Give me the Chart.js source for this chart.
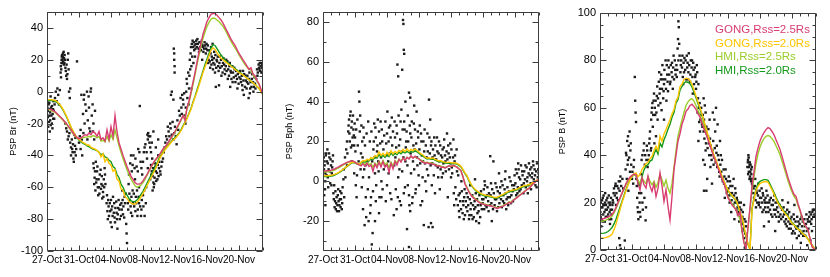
<!DOCTYPE html>
<html>
<head>
<meta charset="utf-8">
<script src="https://cdn.jsdelivr.net/npm/chart.js@4.4.0/dist/chart.umd.min.js"></script>
<style>
  html, body { margin: 0; padding: 0; background: #fff; }
  #wrap { position: relative; width: 830px; height: 277px; overflow: hidden; }
  canvas { position: absolute; top: 0; }
</style>
</head>
<body>
<div id="wrap">
  <canvas id="c1" width="272" height="277" style="left:0px"></canvas>
  <canvas id="c2" width="272" height="277" style="left:276px"></canvas>
  <canvas id="c3" width="277" height="277" style="left:553px"></canvas>
</div>
<script>
// time axis: days since 27-Oct, model curves sampled every 6 hours
const lineStep = 0.25;
const dayTicks = [0, 4, 8, 12, 16, 20, 24];
const dayLabels = ['27-Oct', '31-Oct', '04-Nov', '08-Nov', '12-Nov', '16-Nov', '20-Nov'];

const seriesNames = ['GONG,Rss=2.5Rs', 'GONG,Rss=2.0Rs', 'HMI,Rss=2.5Rs', 'HMI,Rss=2.0Rs'];

const brTicks = [-100, -80, -60, -40, -20, 0, 20, 40];
const bphTicks = [-20, 0, 20, 40, 60, 80];
const bTicks = [0, 20, 40, 60, 80, 100];

// ---- Br ----
const brGong25 = [
  -10.5, -10.8, -11.2, -11.8, -12.5, -13.7, -15, -16.2,
  -17.5, -19, -20.5, -22.2, -24, -25.8, -27.5, -28.7,
  -29.5, -29, -28, -27, -27.5, -26, -27, -25,
  -26, -28, -25, -30, -29, -31, -24, -30,
  -22, -28, -15, -25, -32, -36, -40, -43.5,
  -47, -50, -53, -55, -57, -58, -58, -57.5,
  -56, -54, -52, -49.5, -47, -45, -43, -41.5,
  -40, -38, -36, -34.5, -33, -31, -29, -27,
  -25, -22.5, -20, -17.5, -15, -18, -10, -6,
  0, 6, 12, 18.5, 25, 30.5, 36, 40,
  44, 46.5, 48.5, 49.2, 49, 48, 46.5, 45,
  43, 40.5, 38, 35.5, 33, 31, 29, 26.5,
  24, 22, 20, 18, 16, 14, 15, 11,
  10, 7, 5, 1.5, -2
];
const brGong20 = [
  -5, -5, -5, -5.2, -5.5, -6.2, -7.5, -9,
  -11, -13.5, -16, -19, -22, -24.5, -27, -28.5,
  -30, -31, -32, -32.5, -33.5, -33.5, -35, -35.5,
  -36, -37, -38, -41, -39, -44, -42, -45,
  -46, -50, -49, -55, -56, -61, -62, -66,
  -67, -69, -70, -70.5, -70.5, -69.5, -68, -66,
  -64, -61.5, -59, -56.5, -54, -51.5, -49, -46,
  -43, -40.5, -38.5, -36.5, -35, -33.5, -32, -30.5,
  -29.5, -28, -26.5, -24.5, -22, -19.5, -17, -14,
  -11, -7, -3.5, 0, 4, 8, 12, 15.5,
  19, 22.5, 26, 27.5, 26.5, 24.5, 22.5, 21,
  20, 19, 18, 17, 16, 15, 14, 13,
  12, 11.2, 10.5, 9.5, 8.5, 7.5, 6.5, 5.5,
  4.5, 3.3, 2, 0, -2
];
const brHmi25 = [
  -11, -11.3, -11.7, -12.3, -13, -14.2, -15.5, -16.7,
  -18, -19.5, -21, -22.7, -24.5, -26.3, -28, -29,
  -29.5, -29.5, -29, -28.5, -28.5, -28, -28.5, -27.5,
  -28, -29, -28, -31, -30.5, -31.5, -28, -31,
  -27, -30, -24, -29, -34, -38, -42, -45.5,
  -49, -52, -55, -57, -59, -60, -59.5, -58.5,
  -57, -55, -52.5, -50, -47.5, -45.5, -43.5, -42,
  -40.5, -38.5, -36.5, -35, -33.5, -31.5, -29.5, -27.5,
  -25.5, -23, -20.5, -18, -15.5, -16, -11, -7,
  -1.5, 4.5, 10.5, 17, 23, 28.5, 33.5, 37.5,
  41, 43.5, 45.5, 46.2, 46, 45, 44, 42.5,
  41, 39, 36.5, 34, 31.5, 29.5, 27.5, 25.5,
  23, 21, 19, 17, 15.5, 14, 13.5, 10.5,
  9, 6.5, 4.5, 1, -2
];
const brHmi20 = [
  -5.5, -5.5, -5.5, -5.8, -6, -6.8, -8, -9.5,
  -11.5, -14, -16.5, -19.5, -22.5, -25, -27.5, -29,
  -30.5, -31.5, -32.5, -33, -34, -34.5, -35.5, -36,
  -36.5, -37, -38, -39.5, -39, -41, -41.5, -43,
  -44, -47, -48, -52, -54, -58, -60, -63,
  -65, -67, -68.5, -69, -69, -68, -66.5, -64.5,
  -62.5, -60, -57.5, -55, -52.5, -50, -47.5, -45,
  -42, -40, -38, -36, -34.5, -33, -31.5, -30,
  -29, -27.5, -26, -24, -21.5, -19, -16.5, -13.5,
  -10.5, -6.5, -3, 1, 5, 9, 13, 17,
  20.5, 24, 27.5, 29.5, 29, 27, 25, 23,
  21.5, 20, 18.5, 17.5, 16.5, 15.5, 14.5, 13.5,
  12.5, 11.5, 10.5, 9.5, 8.5, 7.5, 6.5, 5.5,
  4.5, 3.3, 2, 0, -2
];
const brDots = [
  [0.05,-10],[0.1,-12],[0.15,-22],[0.2,-8],[0.3,-15],[0.35,-25],[0.4,-18],[0.45,-3],[0.5,-10],[0.6,-20],[0.7,-14],[0.75,-11],[0.8,-6],[0.9,-17],
  [0.05,-6],[0.12,-16],[0.22,-19],[0.28,-7],[0.38,-13],[0.48,-21],[0.55,-15],[0.62,-9],[0.68,-23],[0.78,-17],[0.85,-12],[0.95,-8],
  [1.0,-4],[1.1,0],[1.2,-6],[1.3,2],[1.4,-2],[1.5,-8],[1.6,1],
  [1.7,12],[1.75,9],[1.8,18],[1.85,22],[1.9,20],[2.0,24],[2.05,21],[2.1,17],[2.2,23],[2.3,15],[2.4,10],[2.5,8],[2.6,20],[2.7,14],
  [1.72,16],[1.78,14],[1.82,20],[1.88,23],[1.92,18],[1.98,22],[2.02,19],[2.08,25],[2.12,21],[2.18,18],[2.25,20],[2.35,13],[2.45,17],[2.55,11],[2.65,24],
  [2.75,0],[2.85,-4],[2.9,2],
  [2.3,-20],[2.5,-25],[2.7,-28],[2.9,-32],[3.0,-35],[3.1,-30],[3.2,-38],[3.3,-42],[3.4,-27],[3.5,-34],[3.6,-40],
  [2.4,-23],[2.6,-30],[2.8,-26],[3.0,-40],[3.15,-36],[3.25,-33],[3.35,-44],[3.45,-38],[3.55,-29],[3.65,-36],
  [3.75,19],
  [4.3,-2],[4.6,-5],[4.8,-8],[5.0,0],[5.2,-3],[5.5,2],
  [4.5,-14],[4.7,-20],[5.1,-18],[5.3,-23],[5.6,-15],[5.8,-20],[6.0,-12],
  [4.2,-24],[4.35,-30],[4.55,-26],[4.65,-2],[4.9,-12],[5.05,-30],[5.25,-10],[5.4,-25],[5.45,0],[5.7,-8],[5.75,-25],[5.9,-30],
  [4.0,-32],[4.1,-28],[4.2,-36],[4.4,-40],
  [5.8,-45],[5.9,-58],[6.0,-50],[6.1,-44],[6.2,-55],[6.3,-47],[6.4,-65],[6.5,-60],[6.6,-52],[6.8,-58],[6.9,-67],[7.0,-63],[7.1,-55],[7.2,-48],
  [5.85,-48],[5.95,-54],[6.05,-62],[6.15,-57],[6.25,-50],[6.35,-60],[6.45,-55],[6.55,-64],[6.7,-49],[6.75,-61],[6.85,-53],[6.95,-59],[7.05,-66],[7.15,-60],[7.25,-52],[7.3,-58],
  [7.5,-65],[7.6,-80],[7.7,-72],[7.9,-75],[8.0,-68],[8.1,-85],[8.2,-78],[8.4,-70],[8.5,-82],[8.7,-76],[8.8,-86],[8.9,-73],[9.1,-80],[9.3,-70],[9.4,-62],[9.5,-77],[9.7,-66],
  [7.45,-70],[7.55,-75],[7.65,-68],[7.75,-78],[7.85,-70],[7.95,-82],[8.05,-74],[8.15,-72],[8.25,-66],[8.35,-76],[8.45,-79],[8.55,-73],[8.65,-69],[8.75,-80],[8.85,-77],[8.95,-68],[9.05,-74],[9.15,-71],[9.25,-78],[9.35,-74],[9.45,-68],[9.55,-72],[9.65,-79],[9.75,-70],[9.85,-64],
  [9.9,-83],[9.95,-89],[10.0,-95],
  [11.6,-9],
  [10.2,-58],[10.4,-45],[10.6,-50],[10.8,-40],[11.0,-55],[11.2,-47],[11.4,-36],[11.5,-60],[11.7,-44],[11.9,-52],[12.1,-38],[12.3,-33],[12.5,-42],[12.6,-30],[12.7,-28],[12.9,-35],
  [10.25,-52],[10.5,-40],[10.7,-46],[10.95,-48],[11.05,-42],[11.35,-50],[11.55,-38],[11.8,-48],[12.0,-44],[12.2,-35],[12.45,-38],[12.55,-27],[12.65,-26],[12.8,-32],[13.0,-38],[13.15,-42],
  [10.1,-70],[10.3,-64],[10.5,-76],[10.7,-62],[10.9,-72],[11.1,-66],[11.3,-78],[11.5,-70],[11.8,-74],[12.0,-65],[12.2,-78],[12.4,-60],
  [10.15,-74],[10.35,-68],[10.45,-72],[10.55,-66],[10.65,-78],[10.75,-70],[10.85,-64],[11.05,-75],[11.15,-70],[11.25,-62],[11.35,-74],[11.45,-66],[11.65,-72],[11.75,-78],[11.85,-68],[12.05,-72],[12.15,-62],[12.35,-70],
  [12.6,-48],[12.9,-55],[13.1,-50],[13.2,-62],[13.3,-57],[13.5,-45],
  [13.0,-46],[13.2,-53],[13.4,-58],[13.6,-50],[13.8,-55],[14.0,-48],[14.2,-52],[14.4,-44],[13.9,-40],[14.6,-38],
  [13.05,-52],[13.25,-48],[13.35,-60],[13.45,-54],[13.55,-47],[13.65,-56],[13.75,-51],[13.85,-46],[13.95,-53],[14.05,-44],[14.15,-50],[14.3,-47],[14.5,-42],[14.7,-35],[14.8,-32],[14.9,-28],[15.0,-30],[15.1,-22],
  [12.9,-28],[13.1,-32],[13.3,-25],[13.6,-35],[13.9,-30],
  [15.2,-25],[15.4,-20],[15.6,-27],[15.8,-30],[16.0,-22],[16.2,-33],
  [15.3,-28],[15.45,-23],[15.7,-19],[15.9,-26],[16.1,-28],[16.3,-18],[16.4,-24],[16.5,-12],
  [15.5,-2],[15.6,0],[15.8,-5],
  [15.85,27],[15.9,24],[15.9,20],[15.95,16],[15.95,12],
  [16.6,-15],[16.8,-10],[16.9,-2],[17.0,-5],[17.2,-15],[17.3,-20],[17.4,0],[17.5,5],[17.7,-8],[17.8,10],[17.9,14],[18.1,2],
  [16.7,-4],[16.85,-14],[17.05,-8],[17.15,-1],[17.35,-10],[17.45,8],[17.55,-4],[17.65,12],[17.75,2],[17.85,20],[17.95,24],[18.05,16],[18.15,22],
  [18.0,28],[18.2,32],[18.3,18],[18.4,26],[18.5,22],[18.6,30],[18.8,33],[19.0,25],
  [18.1,30],[18.25,28],[18.35,31],[18.45,29],[18.55,27],[18.65,32],[18.75,28],[18.85,30],[18.95,27],[19.05,31],[19.15,28],[19.25,26],[19.35,32],[19.45,29],[19.55,25],[19.65,27],[19.75,29],[19.85,24],[19.95,30],[20.05,26],
  [19.3,30],[19.4,20],[19.5,28],[19.7,31],[19.9,27],[20.1,29],[20.3,26],[20.5,28],[20.7,30],[20.9,25],
  [20.2,20],[20.4,15],[20.6,22],[20.8,18],[21.0,12],[21.1,3],[21.2,20],[21.4,16],[21.5,4],[21.6,22],[21.8,10],[22.0,18],[22.2,14],[22.4,20],[22.6,8],[22.8,16],[22.9,3],[23.0,12],[23.2,6],[23.4,15],[23.6,10],[23.8,2],[24.0,12],
  [20.15,18],[20.25,23],[20.35,19],[20.45,24],[20.55,17],[20.65,20],[20.75,14],[20.85,21],[20.95,17],[21.05,23],[21.15,15],[21.25,19],[21.35,22],[21.45,13],[21.55,18],[21.65,15],[21.75,20],[21.85,16],[21.95,12],[22.05,21],[22.15,17],[22.25,11],[22.35,16],[22.45,13],[22.55,19],[22.65,14],[22.75,10],[22.85,18],[22.95,13],[23.05,8],[23.15,16],[23.25,12],[23.35,9],[23.45,14],[23.55,6],[23.65,13],[23.75,8],[23.85,11],[23.95,5],[24.05,9],[24.15,13],[24.25,6],[24.35,10],[24.45,1],[24.55,7],[24.65,11],[24.75,3],[24.85,7],
  [24.2,8],[24.4,4],[24.5,13],[24.6,-2],[24.8,10],[25.0,6],[25.2,-4],[25.3,12],[25.4,2],[25.6,8],[25.8,0],[26.0,5],
  [24.95,2],[25.05,10],[25.15,5],[25.25,8],[25.35,-1],[25.45,6],[25.55,3],[25.65,11],[25.75,6],[25.85,3],[25.95,9],[26.05,2],[26.15,8],[26.25,14],[26.35,12],[26.45,17],[26.55,14],[26.65,13],[26.75,18],[26.85,15],[26.95,12],
  [26.3,10],[26.5,15],[26.6,18],[26.7,16],[26.8,12],[26.9,17],[27.0,14]
];

// ---- Bph ----
const bphGong25 = [
  5.2, 5.2, 5.3, 5.4, 5.6, 5.9, 6.3, 6.8,
  7.4, 8.0, 8.5, 9.0, 9.5, 9.9, 10.2, 10.2,
  9.6, 8.8, 8.2, 7.7, 8.8, 7.6, 9, 7.4,
  8.2, 5, 8.6, 6.8, 9.6, 7.2, 10, 7,
  8.4, 4.6, 9, 6.2, 10, 8.2, 11, 9.6,
  11.8, 10.4, 12, 11.2, 12.8, 11.6, 12.6, 11.8,
  11.2, 10.2, 9.6, 9, 9.4, 8.8, 9, 8.4,
  8.4, 7.6, 7.8, 7.0, 7.2, 6.6, 7.2, 7.8,
  7.4, 8, 7.6, 7, 6.2, 5.4, 2, -1.5,
  -3.5, -5.5, -7, -8.2, -9, -9.8, -10.6, -11.2,
  -11.5, -11.8, -12, -12.2, -12.3, -12.8, -13.2, -13.6,
  -13.2, -12.8, -12.6, -12, -11.4, -10.6, -11, -9.6,
  -9, -8.2, -7.4, -6.6, -5.8, -5, -4.2, -3.6,
  -2.5, -1.4, -0.5, 0.4, 1
];
const bphGong20 = [
  2.8, 2.8, 2.8, 2.9, 3.0, 3.2, 3.6, 4.0,
  4.6, 5.3, 6.0, 6.8, 7.6, 8.4, 9.2, 9.6,
  9.4, 8.8, 8.6, 9.6, 10.4, 10.2, 11, 10.6,
  12, 11.4, 13, 12.4, 14.8, 13, 14, 12.8,
  14.6, 13.2, 15.4, 13.8, 15, 14.2, 15.6, 14.6,
  16, 15, 16.2, 15.2, 16, 15.4, 16.2, 15.6,
  14.6, 13.8, 13.2, 12.2, 11.6, 11.8, 11.4, 11.8,
  11, 10.6, 10.2, 10.4, 9.8, 9.6, 9.4, 9.6,
  9.4, 9.2, 9.3, 9, 8.4, 7.6, 6, 4.2,
  2.8, 0.6, -1.4, -2.8, -4, -4.8, -5.6, -6.2,
  -6.6, -6.9, -7.1, -7.3, -7.5, -7.8, -8.1, -8,
  -7.6, -7.1, -6.6, -6, -5.4, -4.9, -4.6, -4.4,
  -4.2, -3.9, -3.3, -2.8, -2.4, -2.1, -1.9, -1.6,
  -1.3, -0.6, 0, 0.6, 1
];
const bphHmi25 = [
  4.7, 4.7, 4.8, 4.9, 5.1, 5.4, 5.8, 6.3,
  6.9, 7.5, 8.1, 8.7, 9.2, 9.6, 9.9, 10,
  9.6, 9, 8.6, 8.4, 9, 8.4, 9.4, 8.4,
  9, 7, 9.2, 8, 10, 8.4, 10.4, 8.4,
  9.2, 6.8, 9.6, 7.6, 10.4, 9.2, 11.2, 10.2,
  11.6, 10.8, 12, 11.4, 12.4, 11.8, 12.4, 11.8,
  11.4, 10.6, 10, 9.4, 9.6, 9.2, 9.2, 8.8,
  8.6, 8, 8, 7.6, 7.4, 7, 7.4, 7.8,
  7.6, 7.8, 7.6, 7.2, 6.4, 5.2, 2.4, -1,
  -3, -5, -6.6, -7.8, -8.6, -9.4, -10.2, -10.8,
  -11.2, -11.5, -11.8, -12, -12.2, -12.6, -13, -13.3,
  -13, -12.6, -12.2, -11.7, -11.1, -10.4, -10.4, -9.4,
  -8.8, -8, -7.2, -6.4, -5.6, -4.8, -4, -3.4,
  -2.4, -1.3, -0.4, 0.5, 1
];
const bphHmi20 = [
  2.4, 2.4, 2.4, 2.5, 2.6, 2.8, 3.2, 3.7,
  4.3, 5.0, 5.8, 6.6, 7.4, 8.2, 9.0, 9.4,
  9.2, 8.6, 8.4, 9.2, 9.8, 9.6, 10.4, 10.2,
  11.2, 10.8, 12, 11.6, 13.4, 12.2, 13, 12,
  13.4, 12.4, 14.2, 13, 14, 13.4, 14.6, 13.8,
  14.8, 14.2, 15, 14.4, 15, 14.6, 15.2, 14.8,
  14, 13.2, 12.6, 11.8, 11.2, 11.4, 11, 11.2,
  10.6, 10.2, 9.8, 10, 9.4, 9.2, 9, 9.2,
  9, 8.8, 8.9, 8.6, 8, 7.2, 5.6, 3.8,
  2.4, 0.2, -1.8, -3.2, -4.4, -5.2, -6, -6.6,
  -7, -7.3, -7.5, -7.7, -7.9, -8.2, -8.5, -8.4,
  -8, -7.5, -7, -6.4, -5.8, -5.3, -5, -4.8,
  -4.6, -4.3, -3.7, -3.2, -2.8, -2.5, -2.2, -1.9,
  -1.5, -0.8, -0.2, 0.5, 0.9
];
const bphDots = [
  [0.1,12],[0.15,-7],[0.2,8],[0.25,-4],[0.3,4],[0.3,-12],[0.4,14],[0.5,10],[0.55,16],[0.6,2],[0.7,6],[0.8,12],[0.9,-1],[1.0,8],[1.1,4],[1.2,10],
  [0.05,14],[0.12,6],[0.18,10],[0.28,0],[0.35,13],[0.45,3],[0.6,9],[0.65,-3],[0.75,14],[0.85,5],[0.95,11],[1.05,-2],[1.15,7],[1.25,13],
  [1.3,-6],[1.4,-2],[1.5,-10],[1.6,-14],[1.7,-8],[1.8,-12],[1.9,-4],[2.0,-15],[2.1,-9],[2.2,-13],[2.3,-6],[2.4,-11],
  [1.35,-9],[1.45,-13],[1.55,-5],[1.65,-11],[1.75,-15],[1.85,-7],[1.95,-10],[2.05,-12],[2.15,-5],[2.25,-9],[2.35,-14],[2.45,-3],[2.55,1],[2.65,-8],
  [2.6,6],[2.8,2],[3.0,8],
  [3.0,20],[3.2,28],[3.3,24],[3.4,33],[3.45,35],[3.5,17],[3.6,30],[3.7,22],[3.8,26],[3.9,18],[4.0,22],
  [2.75,12],[2.9,16],[3.05,14],[3.15,25],[3.25,31],[3.35,20],[3.55,27],[3.65,18],[3.75,33],[3.85,23],[3.95,29],[4.05,15],[4.15,26],
  [3.6,10],[3.9,4],[4.1,-2],[4.2,-8],
  [4.5,45],[4.55,40],
  [4.3,31],[4.6,25],[4.8,28],[4.9,20],[5.1,22],
  [4.7,6],[5.0,2],[5.3,8],
  [4.25,3],[4.35,18],[4.45,10],[4.65,33],[4.75,14],[4.85,-3],[4.95,12],[5.05,27],[5.15,6],[5.25,18],[5.35,-8],[5.45,24],[5.55,10],[5.65,30],[5.75,2],[5.85,20],[5.95,-12],
  [5.0,-14],[5.2,-22],[5.4,-18],[5.6,-4],[5.7,-20],[5.9,-16],[6.0,-8],
  [6.1,-31.7],
  [6.3,16],[6.4,29],[6.6,22],[6.8,18],[7.0,25],[7.2,30],[7.4,20],
  [6.5,4],[6.9,10],[7.3,0],[7.6,6],
  [6.2,-26],[6.5,-20],[6.6,-10],[7.0,-16],[7.3,-8],
  [6.05,25],[6.15,10],[6.25,-5],[6.35,20],[6.45,12],[6.55,27],[6.65,-2],[6.75,15],[6.85,31],[6.95,5],[7.05,-8],[7.15,19],[7.25,12],[7.35,26],[7.45,-4],[7.55,16],[7.65,23],[7.75,8],[7.85,-10],[7.95,13],
  [7.8,30],[7.9,19],[8.0,24],[8.2,20],[8.4,28],[8.6,32],
  [8.0,-2],[8.2,4],[8.4,-6],
  [8.05,35],[8.15,10],[8.25,27],[8.35,14],[8.45,22],[8.55,-9],[8.65,18],[8.75,25],[8.85,-17],[8.95,30],[9.05,12],[9.15,17],[9.25,24],[9.35,-8],[9.45,33],[9.55,6],[9.65,21],[9.75,-12],[9.85,15],[9.95,26],
  [9.3,58.6],[9.4,52.7],
  [9.9,56],[10.0,81],[10.05,79],[10.1,66],[10.15,64],
  [10.75,44.5],[10.9,42],
  [10.5,-24],[10.75,-33],
  [9.0,22],[9.2,28],[9.5,18],[9.7,30],[9.8,36],[10.2,26],[10.3,40],[10.4,20],[10.6,33],[10.9,24],[11.1,30],[11.3,18],[11.4,38],[11.5,26],[11.7,35],[11.9,22],[12.1,28],
  [8.9,8],[9.1,-4],[9.2,-14],[9.4,2],[9.6,-10],[9.9,5],[10.1,-6],[10.3,10],[10.6,-2],[10.8,-12],[10.9,-15],[11.0,4],[11.2,-8],[11.4,6],[11.6,-4],[11.8,8],[12.0,-2],[12.2,-12],
  [10.05,12],[10.15,30],[10.25,-3],[10.35,17],[10.45,25],[10.55,8],[10.65,20],[10.75,-7],[10.85,28],[10.95,14],[11.05,22],[11.15,-11],[11.25,10],[11.35,29],[11.45,16],[11.55,-6],[11.65,19],[11.75,12],[11.85,25],[11.95,3],
  [12.3,20],[12.4,-10],[12.5,10],[12.6,-22],[12.7,26],[12.8,0],[12.9,-5],[13.0,6],[13.1,15],[13.3,22],
  [12.05,16],[12.15,9],[12.25,24],[12.35,13],[12.45,2],[12.55,20],[12.65,15],[12.75,9],[12.85,18],[12.95,12],[13.05,24],[13.15,3],[13.35,14],[13.45,8],
  [13.2,-23],[13.25,41],
  [13.4,31],[13.5,18],[13.7,12],[13.9,22],[14.1,8],[14.3,15],[14.5,20],[14.7,6],[14.9,12],[15.1,17],[15.3,10],[15.5,24],[15.7,14],[15.9,19],[16.1,7],[16.3,21],[16.5,13],[16.7,16],
  [13.55,20],[13.65,9],[13.75,16],[13.85,3],[13.95,13],[14.05,18],[14.15,11],[14.25,22],[14.35,7],[14.45,14],[14.55,10],[14.65,18],[14.75,13],[14.85,2],[14.95,16],[15.05,9],[15.15,21],[15.25,13],[15.35,5],[15.45,15],[15.55,11],[15.65,18],[15.75,6],[15.85,12],[15.95,9],[16.05,16],[16.15,4],[16.25,12],[16.35,-6],[16.45,10],
  [13.6,-2],[14.0,-6],[14.4,2],[13.5,-21],[13.7,-23],[14.6,-4],[15.0,4],[15.6,-8],[16.0,2],[16.4,-12],
  [16.9,3],[17.1,-6],[17.3,0],[17.5,-10],[17.7,-4],[17.9,-13],[18.1,-8],[18.3,-17],[18.5,-11],[18.7,-19],[18.9,-14],[19.1,-6],[19.3,-16],[19.5,-21],[19.7,-12],[19.9,-9],[17.0,-15],[17.6,-19],[18.4,-2],[19.0,1],
  [16.55,-3],[16.65,-9],[16.75,5],[16.85,-12],[16.95,-7],[17.05,-18],[17.15,-10],[17.25,-14],[17.35,-5],[17.45,-16],[17.55,-12],[17.65,-8],[17.75,-17],[17.85,-10],[17.95,-6],[18.05,-15],[18.15,-12],[18.25,-19],[18.35,-9],[18.45,-14],[18.55,-17],[18.65,-7],[18.75,-12],[18.85,-18],[18.95,-10],[19.05,-13],[19.15,-20],[19.25,-9],[19.35,-12],[19.45,-15],[19.55,-7],[19.65,-18],[19.75,-5],[19.85,-14],[19.95,-11],
  [20.1,-4],[20.3,-12],[20.5,-7],[20.7,-15],[20.9,12.6],[21.1,-20],[21.3,10],[21.5,-9],[21.7,-3],[21.9,-13],[22.1,-6],[22.3,0],[22.5,-10],[22.7,-4],[22.9,-14],[23.1,-8],[23.3,2],[23.5,-11],[23.7,-5],[20.2,0],[21.0,-1],[22.0,4],[22.8,5],
  [20.05,-9],[20.15,-14],[20.25,-2],[20.35,-8],[20.45,-13],[20.55,-3],[20.65,-10],[20.75,-6],[20.85,-12],[20.95,-7],[21.05,-11],[21.15,-4],[21.25,-14],[21.35,-6],[21.45,-12],[21.55,-1],[21.65,-9],[21.75,-15],[21.85,-5],[21.95,-8],[22.05,-11],[22.15,-3],[22.25,-9],[22.35,-13],[22.45,-2],[22.55,-7],[22.65,-11],[22.75,1],[22.85,-6],[22.95,-9],[23.05,-3],[23.15,-12],[23.25,-5],[23.35,-8],[23.45,0],[23.55,-7],[23.65,-2],[23.75,-10],[23.85,-4],[23.95,3],
  [23.9,-2],[24.1,6],[24.3,-6],[24.4,9],[24.5,2],[24.7,-4],[24.9,5],[25.1,-1],[25.3,8],[25.5,0],[25.6,-6],[25.7,4],[25.9,6],[26.0,-4],[26.1,2],[26.3,8],[26.5,3],[26.7,-3],[26.9,6],
  [24.05,-1],[24.15,-7],[24.25,4],[24.35,-3],[24.45,6],[24.55,-5],[24.65,1],[24.75,8],[24.85,-2],[24.95,3],[25.05,-6],[25.15,5],[25.25,1],[25.35,-3],[25.45,7],[25.55,2],[25.65,-2],[25.75,9],[25.85,3],[25.95,-1],[26.05,7],[26.15,4],[26.25,10],[26.35,1],[26.45,6],[26.55,-2],[26.65,5],[26.75,9],[26.85,2],[26.95,4]
];

// ---- B ----
const bGong25 = [
  13, 13.1, 13.3, 13.6, 14, 14.4, 15, 16.3,
  18, 20, 22, 24, 26, 28, 29.5, 30.8,
  31.5, 32, 31.8, 28, 25.4, 30.5, 27.5, 26.1,
  31.1, 27, 24.7, 28, 22.6, 26, 32.5, 27,
  20.5, 25.4, 18.4, 12.7, 22.6, 33.9, 40, 46,
  49, 53, 55.5, 58.5, 59.5, 61, 61.5, 60.5,
  59.3, 57.5, 56, 53.5, 51, 49, 46.5, 44,
  41.5, 39, 37, 34.5, 32.5, 30, 28, 25,
  22, 20.5, 19, 18, 17, 14.5, 16, 8.5,
  3, 0.5, 10, 18, 27, 33, 39.5, 43,
  46, 48, 49.5, 50.8, 51.6, 51.2, 50, 48.6,
  46.5, 44.5, 42.4, 39.5, 36.5, 33.5, 30.5, 28,
  25.5, 23.5, 22.6, 19.5, 17, 14, 11.3, 10,
  8.5, 5, 1.4, 0.5, 0
];
const bGong20 = [
  5, 5, 5.1, 5.3, 5.6, 6, 6.6, 8.5,
  11, 14, 17, 20, 22.5, 25, 27.5, 29.5,
  31.2, 32.2, 32.5, 31, 31.8, 34, 35.3, 36.5,
  37, 38.5, 39.5, 42, 43.8, 42, 48, 45.9,
  49, 50.8, 53, 55, 57.5, 59.3, 63, 64.5,
  69, 70, 72, 72.5, 72.3, 71.5, 69.9, 67.5,
  65, 62.5, 60, 57.5, 54.5, 51.5, 48.5, 45.5,
  42.5, 40, 38, 35.5, 33.5, 31, 29, 27,
  25.5, 24, 23, 22, 21, 19, 16, 14,
  10, 6, 2.8, 0, 17, 21.5, 25, 27,
  28, 28.5, 28.8, 28.9, 28.6, 27, 25.4, 23.5,
  21.5, 19.8, 18.5, 17.2, 16, 15, 14, 12.5,
  11.3, 10.5, 9.6, 8.8, 8.2, 7.2, 6.5, 5.6,
  4.5, 3, 2, 1, 0
];
const bHmi25 = [
  12, 12.1, 12.3, 12.6, 13, 13.5, 14.2, 15.6,
  17.4, 19.5, 21.6, 23.8, 25.8, 27.8, 29.4, 30.6,
  31.3, 31.6, 31.4, 29.5, 28, 30.5, 29, 28,
  31, 29, 27.5, 29, 26.5, 28.5, 32, 29.5,
  27, 29.5, 26, 24, 28, 35, 42, 48,
  51.5, 55, 58, 61, 62.5, 63.5, 63.8, 62.8,
  61, 59, 57, 54.5, 52, 49.5, 47, 44.5,
  42, 39.5, 37, 35, 33, 30.5, 28.5, 25.5,
  22.5, 21, 19.5, 18.5, 17, 15, 13, 8,
  3, 1, 9, 17, 25, 31, 36.5, 40.5,
  43.5, 45.5, 47, 48, 48.3, 48, 47, 45.8,
  44, 42.2, 40.2, 37.5, 34.8, 32, 29.2, 26.8,
  24.5, 22.6, 21.5, 18.8, 16.4, 13.6, 11, 9.8,
  8.2, 4.8, 1.4, 0.5, 0
];
const bHmi20 = [
  7, 7, 7.1, 7.3, 7.8, 8.5, 9.5, 11,
  13, 15.5, 18, 20.5, 23, 25.5, 27.8, 29.6,
  31, 31.8, 31.6, 28.5, 27, 31, 33.8, 35.5,
  36, 37.5, 38, 40.5, 42.5, 40.5, 45, 43.5,
  46.5, 48.5, 51, 53, 56, 58, 62, 63.5,
  67.5, 69, 70.5, 71, 70.8, 70.2, 68.8, 66.6,
  64.2, 61.8, 59.4, 57, 54, 51, 48, 45,
  42, 39.6, 37.6, 35.2, 33.2, 30.8, 28.8, 26.8,
  25.2, 23.8, 22.8, 21.8, 20.6, 18.6, 15.6, 13.4,
  9.4, 5.5, 2.3, 0.5, 17.5, 22, 25.8, 28,
  29, 29.4, 29.7, 29.7, 29.4, 27.8, 26, 24.2,
  22.2, 20.4, 19, 17.6, 16.4, 15.4, 14.3, 12.8,
  11.6, 10.8, 9.9, 9, 8.4, 7.4, 6.6, 5.8,
  4.6, 3.2, 2.1, 1, 0
];
const bDots = [
  [0.05,16],[0.1,20],[0.15,10],[0.2,13],[0.3,18],[0.35,22],[0.4,15],[0.5,19],[0.6,12],[0.65,24],[0.7,17],[0.8,21],[0.9,14],[1.0,18],[1.1,23],[1.2,16],[1.25,11],[1.3,20],[1.4,13],[1.5,17],
  [0.08,14],[0.18,18],[0.25,21],[0.32,12],[0.42,19],[0.45,23],[0.55,16],[0.62,20],[0.72,14],[0.75,19],[0.85,17],[0.92,22],[1.02,15],[1.08,20],[1.15,13],[1.22,19],[1.32,17],[1.38,22],[1.45,15],[1.55,19],[1.6,21],
  [1.7,24],[1.9,27],[2.0,19],[2.1,22],[2.3,26],[2.5,29],
  [1.65,20],[1.75,26],[1.85,23],[1.95,28],[2.05,24],[2.15,27],[2.25,21],[2.35,29],[2.45,25],[2.55,31],[2.65,27],[2.8,30],[2.9,26],
  [2.4,5],[2.5,2],[2.6,0.5],[3.1,4],
  [3.3,40],[3.4,46],[3.5,38],[3.6,44],[3.7,50],[3.8,42],
  [3.2,34],[3.25,41],[3.45,36],[3.5,48],[3.65,39],[3.85,45],[3.9,36],[4.05,33],[4.15,28],[4.25,38],
  [3.35,30],[3.55,25],[3.75,33],
  [4.35,73],[4.4,63],[4.45,58],[4.5,54],
  [4.0,30],[4.2,35],[4.6,27],[4.9,24],[5.1,32],
  [4.7,18],[4.8,13],[5.0,16],[5.3,20],[5.7,12.5],
  [4.55,30],[4.65,22],[4.75,16],[4.85,28],[4.95,20],[5.05,14],[5.15,24],[5.2,38],[5.35,17],[5.45,42],[5.55,22],[5.65,40],[5.75,18],[5.85,44],[5.95,35],[6.05,38],[6.15,45],[6.25,50],[6.35,42],
  [5.3,40],[5.5,45],[5.6,36],[5.8,38],[5.9,42],
  [6.4,55],[6.5,60],[6.6,52],[6.7,63],[6.9,57],[7.1,65],[7.2,55],[7.3,61],[7.5,68],[7.7,59],[7.9,64],[8.0,55],
  [6.1,40],[6.2,47],[6.4,43],[6.8,45],[7.0,48],
  [6.45,58],[6.55,62],[6.65,57],[6.75,66],[6.85,60],[6.95,63],[7.05,58],[7.15,69],[7.25,64],[7.35,71],[7.45,66],[7.55,62],[7.65,74],[7.75,68],[7.85,72],[7.95,67],[8.05,76],[8.15,72],[8.25,68],[8.35,78],[8.45,71],[8.55,80],[8.65,74],[8.75,70],[8.85,78],[8.95,75],[9.05,73],[9.15,77],[9.25,72],[9.35,80],[9.45,74],[9.55,78],[9.65,76],
  [7.4,75],[7.6,72],[7.8,78],[8.0,70],[8.2,80],[8.3,63],[8.4,74],[8.5,67],[8.6,77],[8.8,71],[9.0,79],[9.1,68],[9.2,82],[9.4,76],[9.6,73],[9.8,80],
  [9.7,85],[9.75,89],[9.8,96.5],[9.85,94],[9.9,87],
  [10.1,78],[10.3,82],[10.4,70],[10.5,75],[10.7,80],[10.9,77],[11.0,72],[11.1,83],[11.3,74],
  [9.95,82],[10.05,75],[10.15,80],[10.25,77],[10.35,73],[10.45,79],[10.55,81],[10.65,76],[10.75,72],[10.85,82],[10.95,79],[11.05,75],[11.15,78],[11.25,71],[11.35,80],[11.45,77],[11.55,73],[11.65,79],[11.75,70],[11.85,77],[11.95,74],[12.05,71],[12.15,75],
  [11.5,80],[11.6,66],[11.7,76],[11.9,73],[12.0,68],[12.1,78],[12.3,70],
  [12.2,58],[12.3,46],[12.4,54],[12.5,50],[12.6,57],[12.8,52],[13.0,55],
  [12.25,64],[12.35,60],[12.45,62],[12.55,55],[12.65,60],[12.75,53],[12.85,57],[12.95,50],[13.05,47],[13.15,52],[13.25,45],[13.35,49],[13.45,43],[13.55,51],[13.65,40],[13.75,47],[13.85,44],[13.95,38],[14.05,42],[14.15,46],[14.25,39],[14.35,43],[14.45,37],[14.55,41],[14.65,35],[14.75,40],[14.85,38],[14.95,31],[15.05,36],[15.15,33],[15.25,38],[15.35,29],[15.45,34],
  [13.1,36],[13.0,25],[13.3,25],[13.4,30],
  [12.95,64],[13.1,61],[13.2,58],[13.3,52],[13.5,48],[13.6,45],[13.7,55],
  [14.1,58],[14.3,55],[14.4,50],[14.5,60],[14.7,53],
  [12.9,38],[13.2,42],[13.8,35],[13.9,40],[14.0,28],[14.2,36],[14.6,44],[14.9,33],[15.0,46],[15.1,40],[15.3,30],
  [15.5,28],[15.6,22],[15.7,34],[15.9,25],[16.1,31],[16.2,20],[16.3,27],[16.5,24],[16.7,30],[16.9,26],
  [15.55,31],[15.65,27],[15.75,30],[15.85,24],[15.95,29],[16.05,26],[16.15,23],[16.25,29],[16.35,24],[16.45,21],[16.55,27],[16.65,19],[16.75,23],[16.85,20],[16.95,24],[17.05,17],[17.15,21],[17.25,15],[17.35,20],[17.45,18],[17.55,14],[17.65,17],[17.75,11],[17.85,16],[17.95,9],[18.05,13],[18.15,7],[18.25,10],[18.35,6],
  [16.4,16],[16.8,13],[17.2,18],[17.4,12],
  [17.1,22],[17.3,16],[17.6,20],[17.8,14],[18.0,19],[18.2,12],
  [17.8,8],[18.0,5],[18.1,1],[18.3,3],
  [18.5,38],[18.55,40],[18.6,33],[18.7,36],[18.75,31],[18.8,30],[18.9,34],[19.0,28],
  [18.42,35],[18.48,37],[18.52,32],[18.58,39],[18.62,35],[18.68,30],[18.72,37],[18.78,33],[18.82,36],[18.88,29],[18.92,32],[18.98,35],[19.05,30],[19.1,27],
  [19.2,26],[19.4,30],[19.6,24],[19.8,28],[20.0,22],[20.2,26],[20.4,23],[20.6,20],[20.8,25],
  [19.15,24],[19.25,22],[19.35,27],[19.45,21],[19.55,25],[19.65,20],[19.75,23],[19.85,19],[19.95,25],[20.05,18],[20.15,22],[20.25,20],[20.35,24],[20.45,17],[20.55,21],[20.65,18],[20.75,16],[20.85,20],[20.95,23],[21.05,16],[21.15,20],[21.25,17],[21.35,22],[21.45,19],[21.55,14],[21.65,21],[21.75,17],[21.85,15],[21.95,20],
  [19.5,18],[19.9,20],[20.3,16],[20.5,10],[20.7,22],[21.0,18],[21.1,12],[21.2,21],[21.4,15],[21.6,19],[21.8,23],[21.9,8],[22.0,17],[22.2,20],[22.4,14],[22.6,18],[22.8,21],
  [22.05,14],[22.15,18],[22.25,16],[22.35,12],[22.45,19],[22.55,15],[22.65,13],[22.75,17],[22.85,14],[22.95,18],[23.05,12],[23.15,16],[23.25,13],[23.35,10],[23.45,15],[23.55,12],[23.65,16],[23.75,11],[23.85,9],[23.95,14],[24.05,11],[24.15,8],[24.25,13],[24.35,7],[24.45,12],[24.55,9],[24.65,14],[24.75,10],[24.85,6],[24.95,11],[25.05,13],[25.15,7],[25.25,10],[25.35,12],[25.45,8],[25.55,13],[25.65,6],[25.75,11],[25.85,8],[25.95,13],[26.05,9],[26.15,14],[26.25,12],[26.35,15],[26.45,13],[26.55,16],[26.65,14],[26.75,17],[26.85,15],[26.95,17],
  [23.0,15],[23.2,11],[23.4,17],[23.5,20],[23.6,9],[23.8,13],[24.0,7],[24.2,15],[24.3,19],[24.4,10],[24.6,5],[24.8,12],[25.0,8],[25.1,3],[25.2,14],[25.4,6],
  [25.6,10],[25.8,15],[25.9,2],[26.0,12],[26.2,16],[26.3,4],[26.4,11],[26.5,8],[26.6,17],[26.8,14],[27.0,16]
];

const lineColors = ['#d83c70', '#ffc400', '#9acd2a', '#15991b'];
const fontFamily = '"Liberation Sans", Arial, sans-serif';

function linePoints(vals) {
  return vals.map((v, i) => ({ x: i * lineStep, y: v }));
}
function dotPoints(pairs) {
  return pairs.map(p => ({ x: p[0], y: p[1] }));
}

// box + inward ticks like the IDL plots, and the panel legend
const framePlugin = {
  id: 'frame',
  afterDraw(chart, args, opts) {
    const ctx = chart.ctx;
    const a = chart.chartArea;
    const xs = chart.scales.x, ys = chart.scales.y;
    const L = Math.round(a.left) + 0.5, R = Math.round(a.right) - 0.5;
    const T = Math.round(a.top) + 0.5, B = Math.round(a.bottom) - 0.5;
    ctx.save();
    ctx.strokeStyle = '#3c3c3c';
    ctx.lineWidth = 1;
    ctx.beginPath();
    ctx.rect(L, T, R - L, B - T);
    for (let d = Math.ceil(xs.min); d <= xs.max; d++) {
      const px = Math.round(xs.getPixelForValue(d)) + 0.5;
      const len = dayTicks.includes(d) ? 5 : 3;
      ctx.moveTo(px, B); ctx.lineTo(px, B - len);
      ctx.moveTo(px, T); ctx.lineTo(px, T + len);
    }
    for (let v = Math.ceil(ys.min / opts.minor) * opts.minor; v <= ys.max; v += opts.minor) {
      const py = Math.round(ys.getPixelForValue(v)) + 0.5;
      const len = opts.major.includes(v) ? 6 : 3;
      ctx.moveTo(L, py); ctx.lineTo(L + len, py);
      ctx.moveTo(R, py); ctx.lineTo(R - len, py);
    }
    ctx.stroke();
    if (opts.legend) {
      ctx.font = '11.5px ' + fontFamily;
      ctx.textAlign = 'left';
      ctx.textBaseline = 'middle';
      seriesNames.forEach((name, i) => {
        ctx.fillStyle = lineColors[i];
        ctx.fillText(name, a.right - 101, a.top + 17 + i * 13.6);
      });
    }
    ctx.restore();
  }
};

function makePanel(id, p) {
  const lineSets = p.lines.map((vals, i) => ({
    data: linePoints(vals),
    borderColor: lineColors[i],
    borderWidth: 1.4,
    pointRadius: 0,
    fill: false,
    tension: 0,
    order: i
  }));
  const dotSet = {
    data: dotPoints(p.dots),
    showLine: false,
    pointStyle: 'rect',
    pointRadius: 1.7,
    pointBorderWidth: 0,
    pointBackgroundColor: '#1c1c1c',
    order: 9
  };
  return new Chart(document.getElementById(id), {
    type: 'line',
    data: { datasets: lineSets.concat([dotSet]) },
    options: {
      responsive: false,
      animation: false,
      events: [],
      layout: { padding: { top: p.top, right: p.right, left: 0, bottom: 0 } },
      plugins: {
        legend: { display: false },
        tooltip: { enabled: false },
        frame: { minor: p.minor, major: p.ticks, legend: !!p.legend }
      },
      scales: {
        x: {
          type: 'linear',
          min: 0,
          max: 27,
          afterBuildTicks: s => { s.ticks = dayTicks.map(v => ({ value: v })); },
          afterFit: s => { s.height = p.xHeight; },
          grid: { display: false, drawTicks: false },
          border: { display: false },
          ticks: {
            autoSkip: false,
            maxRotation: 0,
            minRotation: 0,
            padding: 3,
            color: '#000',
            font: { family: fontFamily, size: 10 },
            callback: v => dayLabels[dayTicks.indexOf(v)]
          }
        },
        y: {
          type: 'linear',
          min: p.min,
          max: p.max,
          afterBuildTicks: s => { s.ticks = p.ticks.map(v => ({ value: v })); },
          afterFit: s => { s.width = 47; },
          grid: { display: false, drawTicks: false },
          border: { display: false },
          ticks: {
            padding: 4,
            color: '#000',
            font: { family: fontFamily, size: 11 }
          },
          title: {
            display: true,
            text: p.title,
            color: '#000',
            padding: { top: p.titlePad, bottom: 0 },
            font: { family: fontFamily, size: 9 }
          }
        }
      }
    },
    plugins: [framePlugin]
  });
}

makePanel('c1', {
  title: 'PSP Br (nT)', min: -100, max: 50, ticks: brTicks, minor: 10,
  lines: [brGong25, brGong20, brHmi25, brHmi20], dots: brDots,
  top: 12, right: 9, xHeight: 26, titlePad: 8.6
});
makePanel('c2', {
  title: 'PSP Bph (nT)', min: -35, max: 85, ticks: bphTicks, minor: 10,
  lines: [bphGong25, bphGong20, bphHmi25, bphHmi20], dots: bphDots,
  top: 12, right: 9, xHeight: 26, titlePad: 8.6
});
makePanel('c3', {
  title: 'PSP B (nT)', min: 0, max: 100, ticks: bTicks, minor: 5,
  lines: [bGong25, bGong20, bHmi25, bHmi20], dots: bDots,
  top: 13, right: 14, xHeight: 27, titlePad: 4.6, legend: true
});
</script>
</body>
</html>
